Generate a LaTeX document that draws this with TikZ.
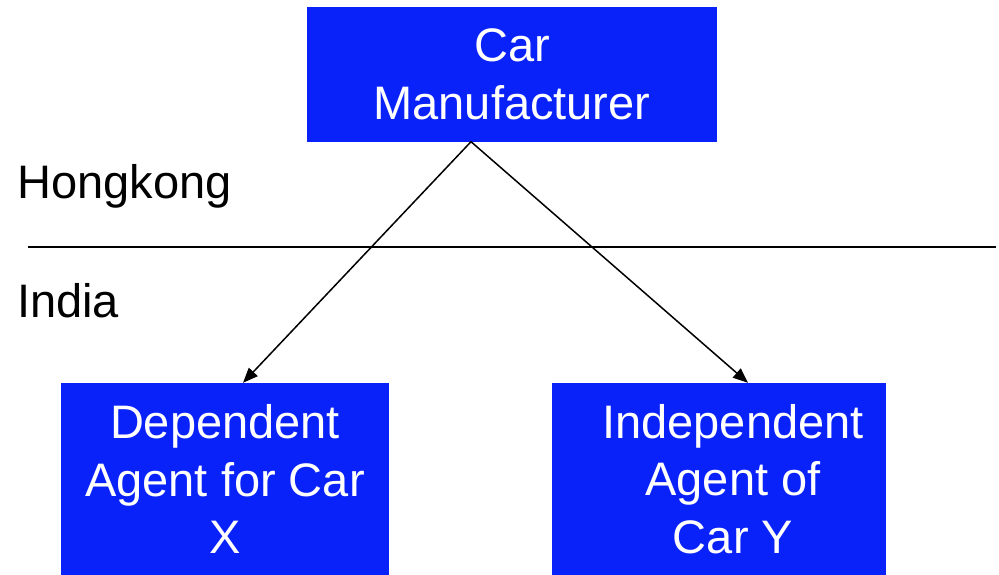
\documentclass[tikz,border=0pt]{standalone}
\usepackage{fontspec}
\setmainfont{Liberation Sans}
\usetikzlibrary{arrows.meta}
\definecolor{boxblue}{RGB}{10,34,250}
\begin{document}
\begin{tikzpicture}[x=1pt,y=-1pt,
  box/.style={fill=boxblue, draw=none, text=white, align=center,
    font=\fontsize{47}{57.5}\selectfont, inner sep=0pt},
  lbl/.style={font=\fontsize{47}{57.5}\selectfont, anchor=base west, inner sep=0pt},
  conn/.style={line width=1.5pt, -{Triangle[length=15pt,width=12pt]}}]
\useasboundingbox (0,0) rectangle (999,575);
\node[box, minimum width=410pt, minimum height=135pt] (top) at (512,74.5) {Car\\Manufacturer};
\node[box, minimum width=328pt, minimum height=192pt] (left) at (225,479) {Dependent\\Agent for Car\\X};
\node[box, minimum width=334pt, minimum height=192pt] (right) at (719,479)
  {\hspace*{28pt}Independent\\\hspace*{28pt}Agent of\\\hspace*{28pt}Car Y};
\node[lbl] (hk) at (17,198) {Hongkong};
\node[lbl] (in) at (17,317) {India};
\coordinate (l1) at (28,247);
\coordinate (l2) at (996,247);
\draw[line width=2pt] (l1) -- (l2);
\draw[conn] ([xshift=-41pt,yshift=0.5pt]top.south) -- ([xshift=18pt]left.north);
\draw[conn] ([xshift=-41pt,yshift=0.5pt]top.south) -- ([xshift=29pt]right.north);
\end{tikzpicture}
\end{document}
